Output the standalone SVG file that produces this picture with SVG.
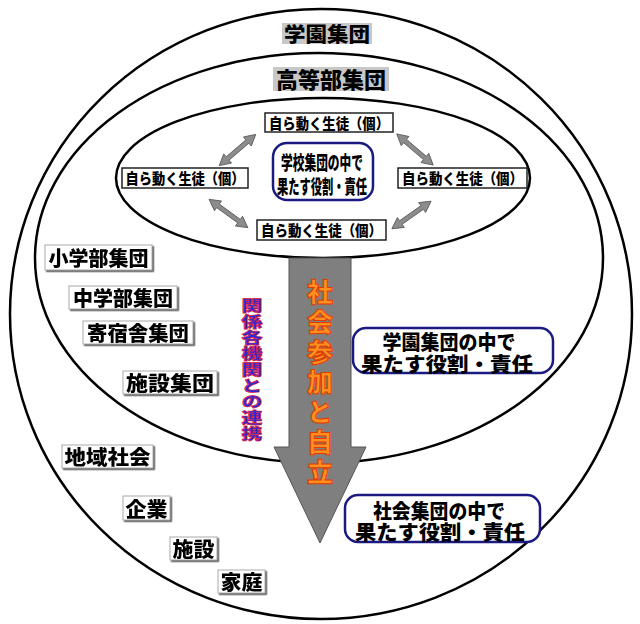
<svg xmlns="http://www.w3.org/2000/svg" width="640" height="624" viewBox="0 0 640 624">
<style>
.ring{fill:none;stroke:#000;stroke-width:2.5}
.jp{font-family:"Noto Sans CJK JP","Noto Sans CJK SC",sans-serif;font-weight:900;fill:#000}
.grp{fill:#c8c8c8}
.lbl{fill:#fff;stroke:#aaa;stroke-width:1}
.node{fill:#fff;stroke:#222;stroke-width:1.5}
.rbox{fill:#fff;stroke:#1a1a80;stroke-width:2.5}
.dbl{fill:#8c8c8c;stroke:#555;stroke-width:0.8}
.vert{writing-mode:vertical-rl;font-family:"Noto Sans CJK JP","Noto Sans CJK SC",sans-serif;font-weight:900}
</style>
<defs>
<filter id="sh" x="-10%" y="-10%" width="130%" height="140%">
<feDropShadow dx="1.5" dy="1.5" stdDeviation="0.3" flood-color="#555"/>
</filter>
<path id="dblarrow" class="dbl" d="M-24,0 L-13,-6 L-13,-2.2 L13,-2.2 L13,-6 L24,0 L13,6 L13,2.2 L-13,2.2 L-13,6 Z"/>
</defs>
<rect width="640" height="624" fill="#fff"/>

<g id="rings">
<ellipse class="ring" cx="321" cy="314" rx="311" ry="305"/>
<ellipse class="ring" cx="319" cy="258" rx="284" ry="205"/>
<ellipse class="ring" cx="323" cy="178" rx="207" ry="80"/>
</g>

<g id="connectors">
<use href="#dblarrow" transform="translate(237.5,150) rotate(-40.6)"/>
<use href="#dblarrow" transform="translate(415,149.5) rotate(40.5)"/>
<use href="#dblarrow" transform="translate(228.5,213.5) rotate(36.1)"/>
<use href="#dblarrow" transform="translate(411.5,215) rotate(-35.1)"/>
<path id="bigarrow" d="M289,258 L351,258 L351,447 L366,447 L320,543 L274,447 L289,447 Z" fill="#7f7f7f" stroke="#555" stroke-width="1"/>
</g>

<g id="gakuen">
<rect class="grp" x="282" y="23" width="90" height="21"/>
<text class="jp" x="327" y="42" font-size="20" text-anchor="middle" textLength="86" lengthAdjust="spacingAndGlyphs">学園集団</text>
</g>
<g id="koutoubu">
<rect class="grp" x="273" y="67" width="116" height="24"/>
<text class="jp" x="331" y="88" font-size="22" text-anchor="middle" textLength="110" lengthAdjust="spacingAndGlyphs">高等部集団</text>
</g>

<g id="node-top">
<rect class="node" x="265" y="113" width="128" height="19"/>
<text class="jp" x="329" y="129" font-size="15" text-anchor="middle" textLength="120" lengthAdjust="spacingAndGlyphs">自ら動く生徒（個）</text>
</g>
<g id="node-left">
<rect class="node" x="122" y="168" width="126" height="20"/>
<text class="jp" x="185" y="184" font-size="15" text-anchor="middle" textLength="119" lengthAdjust="spacingAndGlyphs">自ら動く生徒（個）</text>
</g>
<g id="node-right">
<rect class="node" x="398" y="168" width="129" height="20"/>
<text class="jp" x="462.5" y="184" font-size="15" text-anchor="middle" textLength="121" lengthAdjust="spacingAndGlyphs">自ら動く生徒（個）</text>
</g>
<g id="node-bottom">
<rect class="node" x="257" y="220" width="129" height="20"/>
<text class="jp" x="321.5" y="236" font-size="15" text-anchor="middle" textLength="121" lengthAdjust="spacingAndGlyphs">自ら動く生徒（個）</text>
</g>

<g id="school-role">
<rect class="rbox" x="273" y="143" width="100" height="57" rx="14"/>
<text class="jp" font-size="19" text-anchor="middle"><tspan x="322" y="170" textLength="82" lengthAdjust="spacingAndGlyphs">学校集団の中で</tspan><tspan x="322" y="194" textLength="90" lengthAdjust="spacingAndGlyphs">果たす役割・責任</tspan></text>
</g>

<g id="labels-left" filter="url(#sh)">
<g id="shougakubu"><rect class="lbl" x="45" y="245" width="107" height="25"/>
<text class="jp" x="98.5" y="266" font-size="20" text-anchor="middle" textLength="100" lengthAdjust="spacingAndGlyphs">小学部集団</text></g>
<g id="chuugakubu"><rect class="lbl" x="69" y="286" width="108" height="23"/>
<text class="jp" x="123" y="306" font-size="20" text-anchor="middle" textLength="100" lengthAdjust="spacingAndGlyphs">中学部集団</text></g>
<g id="kishukusha"><rect class="lbl" x="83" y="321" width="110" height="23"/>
<text class="jp" x="138" y="341" font-size="20" text-anchor="middle" textLength="102" lengthAdjust="spacingAndGlyphs">寄宿舎集団</text></g>
<g id="shisetsu-shuudan"><rect class="lbl" x="123" y="371" width="94" height="23"/>
<text class="jp" x="170" y="391" font-size="20" text-anchor="middle" textLength="88" lengthAdjust="spacingAndGlyphs">施設集団</text></g>
<g id="chiiki"><rect class="lbl" x="62" y="445" width="91" height="23"/>
<text class="jp" x="107.5" y="465" font-size="20" text-anchor="middle" textLength="86" lengthAdjust="spacingAndGlyphs">地域社会</text></g>
<g id="kigyou"><rect class="lbl" x="123" y="496" width="47" height="24"/>
<text class="jp" x="146.5" y="517" font-size="20" text-anchor="middle" textLength="42" lengthAdjust="spacingAndGlyphs">企業</text></g>
<g id="shisetsu"><rect class="lbl" x="170" y="537" width="47" height="23"/>
<text class="jp" x="193.5" y="557" font-size="20" text-anchor="middle" textLength="42" lengthAdjust="spacingAndGlyphs">施設</text></g>
<g id="katei"><rect class="lbl" x="218" y="570" width="47" height="23"/>
<text class="jp" x="241.5" y="590" font-size="20" text-anchor="middle" textLength="42" lengthAdjust="spacingAndGlyphs">家庭</text></g>
</g>

<g id="renkei" transform="translate(252 0) scale(1.4 1) translate(-252 0)">
<text class="vert" x="252" y="298" font-size="15" letter-spacing="1" fill="#2a2ad8" stroke="#e0203a" stroke-width="0.7">関係各機関との連携</text>
</g>

<g id="shakai-sanka">
<text class="vert" x="320" y="279" font-size="26" letter-spacing="4" fill="#ff9020" stroke="#e03a00" stroke-width="1">社会参加と自立</text>
</g>

<g id="gakuen-role">
<rect class="rbox" x="353" y="328" width="200" height="45" rx="13"/>
<text class="jp" font-size="20" text-anchor="middle"><tspan x="449" y="350" textLength="133" lengthAdjust="spacingAndGlyphs">学園集団の中で</tspan><tspan x="447" y="372" textLength="172" lengthAdjust="spacingAndGlyphs">果たす役割・責任</tspan></text>
</g>

<g id="shakai-role">
<rect class="rbox" x="345" y="495" width="195" height="47" rx="13"/>
<text class="jp" font-size="20" text-anchor="middle"><tspan x="439" y="519" textLength="132" lengthAdjust="spacingAndGlyphs">社会集団の中で</tspan><tspan x="440" y="540" textLength="170" lengthAdjust="spacingAndGlyphs">果たす役割・責任</tspan></text>
</g>
</svg>
